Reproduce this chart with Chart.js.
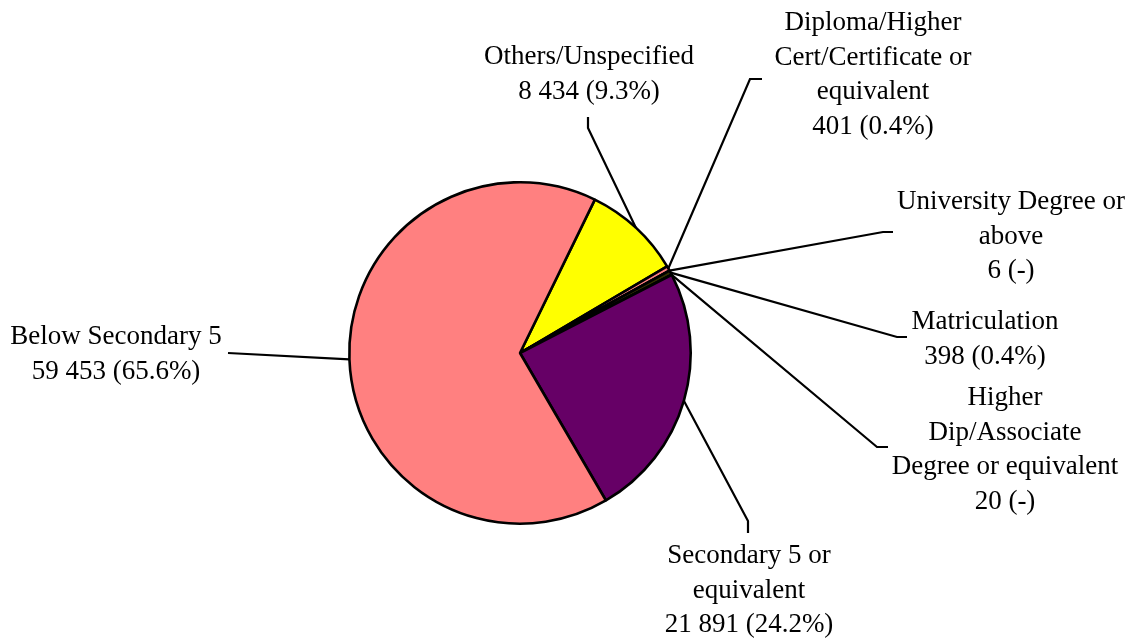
<!DOCTYPE html>
<html>
<head>
<meta charset="utf-8">
<script src="https://cdn.jsdelivr.net/npm/chart.js@4/dist/chart.umd.min.js"></script>
<style>
  html, body { margin: 0; padding: 0; background: #fff; }
  #wrap { width: 1138px; height: 639px; position: relative; }
</style>
</head>
<body>
<div id="wrap"><canvas id="pie"></canvas></div>
<script>
// categories (label lines as in the picture), clockwise from the top
const categories = [
  ["Others/Unspecified"],
  ["Diploma/Higher", "Cert/Certificate or", "equivalent"],
  ["University Degree or", "above"],
  ["Matriculation"],
  ["Higher", "Dip/Associate", "Degree or equivalent"],
  ["Secondary 5 or", "equivalent"],
  ["Below Secondary 5"]
];
const values = [8434, 401, 6, 398, 20, 21891, 59453];
const colors = ["#FFFF00", "#FF8080", "#FFFFCC", "#333300", "#CCFFFF", "#660066", "#FF8080"];

// label placement, offsets from pie centre: text centre x, first line y, leader elbow, leader end
const labelPos = [
  { tx: 69,   ty: -296, elbow: [68, -225],  end: [68, -236] },
  { tx: 353,  ty: -330, elbow: [230, -274], end: [242, -274] },
  { tx: 491,  ty: -151, elbow: [363, -121], end: [373, -121] },
  { tx: 465,  ty: -31,  elbow: [377, -16],  end: [387, -16] },
  { tx: 485,  ty: 45,   elbow: [357, 94],   end: [368, 94] },
  { tx: 229,  ty: 203,  elbow: [228, 168],  end: [228, 180] },
  { tx: -404, ty: -16,  elbow: [-292, 0],   end: [-292, 0] }
];
const LINE_H = 34.5;

const total = values.reduce((a, b) => a + b, 0);

function nfmt(v){ return String(v).replace(/\B(?=(\d{3})+(?!\d))/g, " "); }
function pfmt(v){
  const p = v / total * 100;
  return p < 0.05 ? "(-)" : `(${p.toFixed(1)}%)`;
}

const leaderLabels = {
  id: "leaderLabels",
  afterDraw(chart){
    const ctx = chart.ctx;
    const meta = chart.getDatasetMeta(0);
    ctx.save();
    ctx.strokeStyle = "#000";
    ctx.lineWidth = 2.2;
    ctx.lineJoin = "miter";
    ctx.fillStyle = "#000";
    ctx.font = '27px "Liberation Serif", "Times New Roman", serif';
    ctx.textAlign = "center";
    ctx.textBaseline = "middle";
    meta.data.forEach((arc, i) => {
      const { x, y, startAngle, endAngle, outerRadius } = arc.getProps(["x", "y", "startAngle", "endAngle", "outerRadius"], true);
      const mid = (startAngle + endAngle) / 2;
      const lp = labelPos[i];
      ctx.beginPath();
      ctx.moveTo(x + Math.cos(mid) * outerRadius, y + Math.sin(mid) * outerRadius);
      ctx.lineTo(x + lp.elbow[0], y + lp.elbow[1]);
      ctx.lineTo(x + lp.end[0], y + lp.end[1]);
      ctx.stroke();

      const lines = categories[i].concat([`${nfmt(values[i])} ${pfmt(values[i])}`]);
      lines.forEach((t, k) => ctx.fillText(t, x + lp.tx, y + lp.ty + k * LINE_H));
    });
    ctx.restore();
  }
};

new Chart(document.getElementById("pie"), {
  type: "pie",
  data: {
    labels: categories.map(c => c.join(" ")),
    datasets: [{
      data: values,
      backgroundColor: colors,
      borderColor: "#000",
      borderWidth: 2.6
    }]
  },
  options: {
    responsive: true,
    maintainAspectRatio: false,
    animation: false,
    events: [],
    rotation: 26,
    layout: { padding: { left: 348, right: 446, top: 181, bottom: 114 } },
    plugins: { legend: { display: false }, tooltip: { enabled: false } }
  },
  plugins: [leaderLabels]
});
</script>
</body>
</html>
